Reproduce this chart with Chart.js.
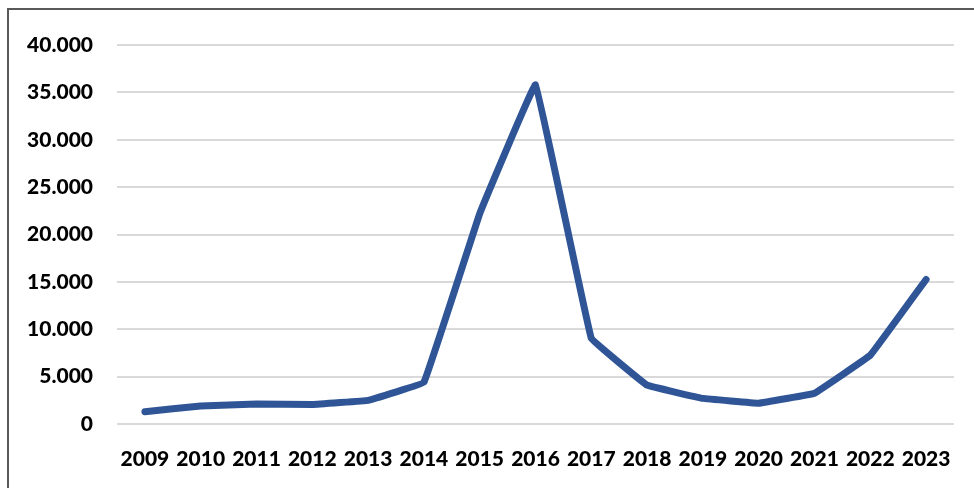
<!DOCTYPE html>
<html>
<head>
<meta charset="utf-8">
<script src="https://cdn.jsdelivr.net/npm/chart.js@4/dist/chart.umd.min.js"></script>
<style>
  html, body { margin: 0; padding: 0; background: #fff; overflow: hidden; }
  #frame {
    position: absolute; left: 7px; top: 8px; width: 1000px; height: 520px;
    border: 2px solid #595959; box-sizing: border-box;
  }
  #wrap { position: absolute; left: 0; top: 0; width: 974px; height: 488px; }
</style>
</head>
<body>
<div id="frame"></div>
<div id="wrap"><canvas id="chart" width="974" height="488"></canvas></div>
<script>
const years = ['2009','2010','2011','2012','2013','2014','2015','2016','2017','2018','2019','2020','2021','2022','2023'];
const values = [1300, 1900, 2100, 2050, 2500, 4400, 22200, 35800, 9050, 4100, 2700, 2200, 3250, 7250, 15250];
const yTicks = [0, 5000, 10000, 15000, 20000, 25000, 30000, 35000, 40000];

const fmt = v => v === 0 ? '0' : v.toLocaleString('de-DE');
const FONT = { family: 'Lato, "Liberation Sans", sans-serif', size: 21, weight: '900' };

new Chart(document.getElementById('chart'), {
  type: 'line',
  data: {
    labels: years,
    datasets: [{
      data: values,
      borderColor: '#2F5597',
      borderWidth: 7,
      borderCapStyle: 'round',
      borderJoinStyle: 'round',
      tension: 0.04,
      pointRadius: 0,
      fill: false
    }]
  },
  options: {
    responsive: false,
    animation: false,
    devicePixelRatio: 1,
    layout: { padding: { left: 0, right: 17, top: 45, bottom: 0 } },
    plugins: { legend: { display: false }, tooltip: { enabled: false } },
    scales: {
      x: {
        offset: true,
        grid: { display: false, drawTicks: false },
        border: { display: false },
        ticks: { color: '#000', font: FONT, padding: 23, maxRotation: 0, autoSkip: false },
        afterFit: s => { s.height = 64; }
      },
      y: {
        min: 0, max: 40000,
        afterBuildTicks: s => { s.ticks = yTicks.map(v => ({ value: v })); },
        grid: { color: '#D9D9D9', lineWidth: 2, drawTicks: false },
        border: { display: false },
        ticks: { color: '#000', font: FONT, padding: 24, callback: v => fmt(v) },
        afterFit: s => { s.width = 117; }
      }
    }
  }
});
</script>
</body>
</html>
